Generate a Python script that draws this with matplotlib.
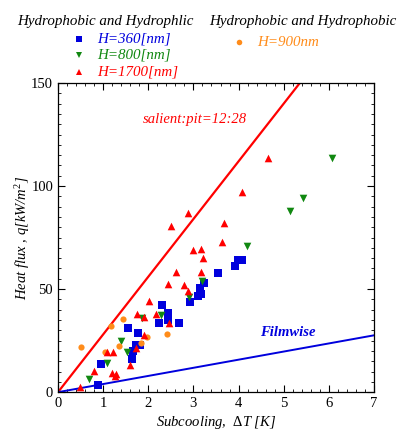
import matplotlib
matplotlib.use("Agg")
import matplotlib.pyplot as plt
from matplotlib.ticker import MultipleLocator
from matplotlib.lines import Line2D

# ---- data ----
h360_x = [0.88, 0.95, 1.63, 1.67, 1.73, 1.82, 1.78, 1.56, 2.23, 2.43, 2.43, 2.30, 2.69,
          2.93, 3.11, 3.17, 3.15, 3.23, 3.54, 3.92, 3.99, 4.07]
h360_y = [3.6, 13.8, 16.1, 20.1, 22.7, 22.7, 28.7, 31.3, 33.5, 35.0, 38.4, 42.3, 33.4,
          43.9, 46.8, 47.7, 50.5, 53.2, 57.9, 61.0, 64.2, 63.9]

h800_x = [0.69, 1.08, 1.40, 1.53, 1.86, 2.29, 2.90, 3.18, 4.19, 5.14, 5.42, 6.07]
h800_y = [6.5, 14.1, 24.6, 19.3, 36.0, 37.4, 46.0, 53.7, 71.0, 88.1, 94.0, 113.5]

h1700_x = [0.49, 0.80, 1.09, 1.21, 1.20, 1.28, 1.26, 1.60, 1.73, 1.74, 1.91, 1.91, 2.02,
           2.17, 2.45, 2.44, 2.61, 2.79, 2.88, 3.16, 3.21, 3.16, 3.00, 3.63, 3.67, 2.50,
           2.89, 4.08, 4.65]
h1700_y = [2.7, 10.1, 19.6, 19.6, 9.3, 8.8, 7.7, 13.2, 21.4, 37.9, 36.3, 27.5, 44.0,
           37.7, 33.5, 52.7, 58.1, 52.0, 49.0, 58.4, 65.0, 69.4, 69.1, 73.0, 82.0, 80.6,
           86.9, 97.3, 113.5]

h900_x = [0.52, 1.17, 1.45, 1.35, 1.05, 1.83, 1.97, 2.41]
h900_y = [22.0, 32.2, 35.6, 22.5, 19.5, 23.8, 27.0, 28.0]

salient_slope = 28.0   # q = 28 * dT
filmwise_slope = 3.94  # q = 3.94 * dT
line_x = [0, 7]

x_ticks = [0, 1, 2, 3, 4, 5, 6, 7]
y_ticks = [0, 50, 100, 150]

group_titles = ["Hydrophobic and Hydrophlic", "Hydrophobic and Hydrophobic"]
labels_left = ["H=360[nm]", "H=800[nm]", "H=1700[nm]"]
labels_right = ["H=900nm"]

serif = ["Liberation Serif", "DejaVu Serif"]
plt.rcParams["font.family"] = serif
plt.rcParams["mathtext.fontset"] = "custom"
plt.rcParams["mathtext.it"] = "Liberation Serif:italic"
plt.rcParams["mathtext.rm"] = "Liberation Serif"

fig = plt.figure(figsize=(4.0, 4.3), dpi=100)
ax = fig.add_axes([0.145, 0.088, 0.79, 0.719])

blue = "#0000dd"
green = "#118811"
red = "#ff0000"
orange = "#ff8c1a"

ax.plot(line_x, [salient_slope * v for v in line_x], color=red, lw=1.6, zorder=2)
ax.plot(line_x, [filmwise_slope * v for v in line_x], color=blue, lw=1.4, zorder=2)

ax.scatter(h360_x, h360_y, marker="s", s=26, color=blue, zorder=3, linewidths=0)
ax.scatter(h800_x, h800_y, marker="v", s=30, color=green, zorder=3, linewidths=0)
ax.scatter(h1700_x, h1700_y, marker="^", s=30, color=red, zorder=4, linewidths=0)
ax.scatter(h900_x, h900_y, marker="o", s=20, color=orange, zorder=3, linewidths=0)

ax.set_xlim(0, 7)
ax.set_ylim(0, 150)
ax.set_xticks(x_ticks)
ax.set_yticks(y_ticks)
ax.xaxis.set_minor_locator(MultipleLocator(0.2))
ax.yaxis.set_minor_locator(MultipleLocator(5))
ax.tick_params(which="both", direction="in", top=True, right=True, labelsize=10.5)
ax.tick_params(which="major", length=5, width=0.8)
ax.tick_params(which="minor", length=2.5, width=0.6)
for sp in ax.spines.values():
    sp.set_linewidth(0.9)

ax.set_xlabel("Subcooling,  $\\Delta T$ [K]", fontsize=10.5, style="italic", labelpad=3)
ax.set_ylabel("Heat flux , q[kW/m$^2$]", fontsize=10.5, style="italic")
ax.yaxis.set_label_coords(-0.083, 0.5)

ax.text(1.88, 132.5, "salient:pit=12:28", color=red, fontsize=10.5, style="italic",
        va="center")
ax.text(4.47, 28.8, "Filmwise", color=blue, fontsize=10.5, style="italic",
        weight="bold", va="center")

# ---- legend (manual layout) ----
lfs = 10.8
fig.text(0.0425, 0.951, group_titles[0], fontsize=lfs, style="italic", va="center")
fig.text(0.5225, 0.951, group_titles[1], fontsize=lfs, style="italic", va="center")
left_style = [("s", blue, 4.6), ("v", green, 5.0), ("^", red, 5.0)]
left_y = [0.909, 0.872, 0.833]
for (m, c, ms), yy, lab in zip(left_style, left_y, labels_left):
    fig.add_artist(Line2D([0.1975], [yy], marker=m, color=c, markersize=ms, lw=0,
                          markeredgewidth=0, transform=fig.transFigure))
    fig.text(0.2425, yy, lab, fontsize=lfs, style="italic", color=c, va="center")
fig.add_artist(Line2D([0.5975], [0.902], marker="o", color=orange, markersize=4.0, lw=0,
                      markeredgewidth=0, transform=fig.transFigure))
fig.text(0.6425, 0.902, labels_right[0], fontsize=lfs, style="italic", color=orange,
         va="center")

fig.savefig("out.png", dpi=100)
